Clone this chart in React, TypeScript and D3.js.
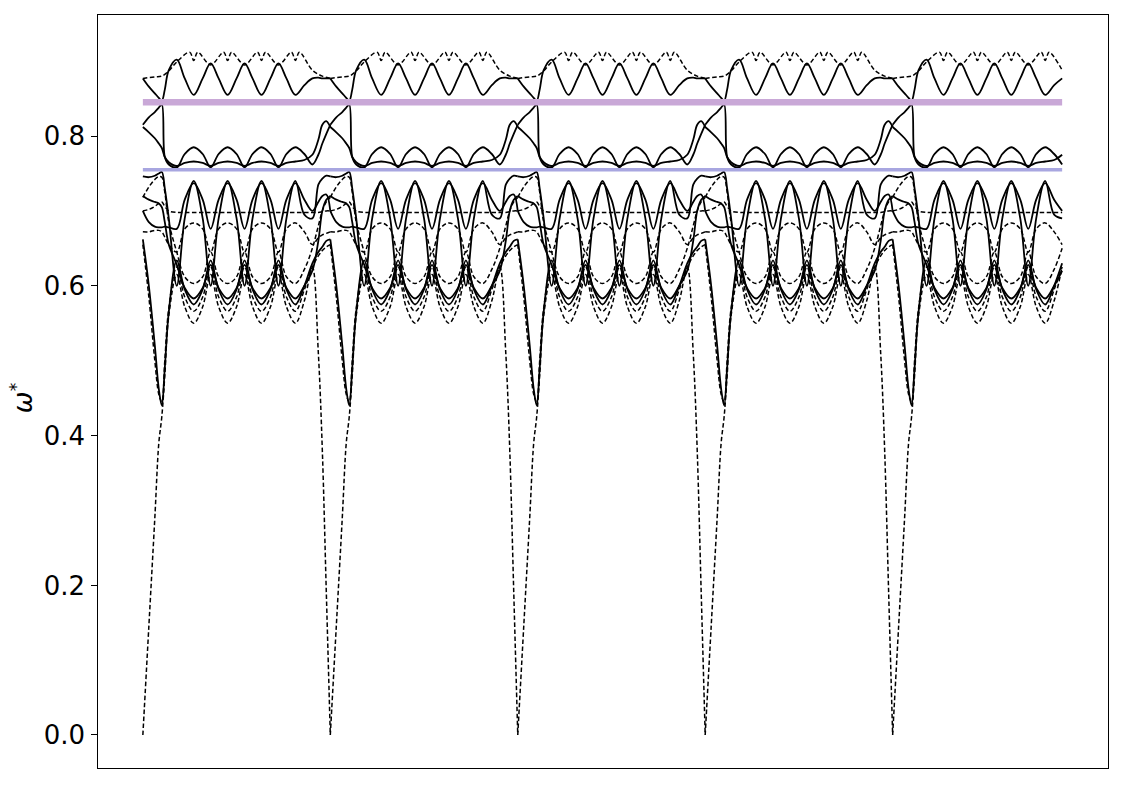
import React from "react";
import * as d3 from "d3";

const WIDTH = 1125;
const HEIGHT = 785;
const PLOT = { left: 97, right: 1108, top: 14, bottom: 768 };

// the path is repeated 5 times; the last repeat stops early
const REPEAT_LEN = 188;
const REPEAT_ENDS = [188, 188, 188, 188, 170];
const X_DOMAIN: [number, number] = [-46, 968];
const Y_DOMAIN: [number, number] = [-0.0441, 0.963];
const Y_TICKS = [0, 0.2, 0.4, 0.6, 0.8];

const GAP_UPPER = 0.845;
const GAP_LOWER = 0.755;

// sample positions inside one repeat (path units)
const OFFSETS = [0, 6, 12, 16, 19, 22, 26, 34, 42, 51, 60, 68, 76, 85, 94, 102, 110, 119, 128, 136, 144, 153, 162, 170, 176, 180, 184, 188];
const TOP_DASH_OFFSETS = [0, 12, 19, 26, 34, 47, 51, 55, 68, 81, 85, 89, 102, 115, 119, 123, 136, 149, 153, 157, 170, 180, 188];

// frequencies of each branch within one repeat
const topSolid = [0.877, 0.866, 0.857, 0.851, 0.847, 0.862, 0.888, 0.902, 0.877, 0.855, 0.877, 0.897, 0.877, 0.855, 0.877, 0.897, 0.877, 0.855, 0.877, 0.897, 0.877, 0.855, 0.868, 0.877, 0.878, 0.877, 0.877, 0.877];
const topDashed = [0.877, 0.879, 0.880, 0.887, 0.899, 0.912, 0.901, 0.912, 0.895, 0.912, 0.901, 0.912, 0.895, 0.912, 0.901, 0.912, 0.895, 0.912, 0.901, 0.912, 0.888, 0.880, 0.877];
const midSolidA = [0.815, 0.825, 0.832, 0.838, 0.842, 0.772, 0.762, 0.758, 0.776, 0.785, 0.776, 0.758, 0.776, 0.785, 0.776, 0.758, 0.776, 0.785, 0.776, 0.758, 0.776, 0.785, 0.776, 0.762, 0.775, 0.79, 0.803, 0.815];
const midSolidB = [0.812, 0.805, 0.797, 0.79, 0.784, 0.772, 0.765, 0.760, 0.764, 0.766, 0.764, 0.760, 0.764, 0.766, 0.764, 0.760, 0.764, 0.766, 0.764, 0.760, 0.764, 0.766, 0.768, 0.775, 0.795, 0.815, 0.82, 0.812];
const lowSolidA = [0.746, 0.745, 0.747, 0.75, 0.752, 0.73, 0.69, 0.60, 0.69, 0.74, 0.69, 0.60, 0.69, 0.74, 0.69, 0.60, 0.69, 0.74, 0.69, 0.60, 0.69, 0.74, 0.695, 0.69, 0.735, 0.743, 0.747, 0.746];
const lowSolidB = [0.70, 0.685, 0.679, 0.678, 0.678, 0.679, 0.678, 0.676, 0.715, 0.737, 0.715, 0.676, 0.715, 0.737, 0.715, 0.676, 0.715, 0.737, 0.715, 0.676, 0.715, 0.737, 0.715, 0.70, 0.712, 0.72, 0.722, 0.70];
const flatDashed = [0.700, 0.702, 0.706, 0.71, 0.712, 0.706, 0.70, 0.698, 0.698, 0.698, 0.698, 0.698, 0.698, 0.698, 0.698, 0.698, 0.698, 0.698, 0.698, 0.698, 0.698, 0.698, 0.698, 0.698, 0.698, 0.699, 0.70, 0.70];
const ovalDashedTop = [0.672, 0.672, 0.674, 0.674, 0.672, 0.665, 0.655, 0.645, 0.676, 0.684, 0.676, 0.645, 0.676, 0.684, 0.676, 0.645, 0.676, 0.684, 0.676, 0.645, 0.676, 0.684, 0.672, 0.655, 0.664, 0.668, 0.670, 0.672];
const ovalDashedBottom = [0.718, 0.732, 0.742, 0.746, 0.745, 0.725, 0.685, 0.645, 0.612, 0.603, 0.612, 0.645, 0.612, 0.603, 0.612, 0.645, 0.612, 0.603, 0.612, 0.645, 0.612, 0.603, 0.622, 0.65, 0.68, 0.70, 0.712, 0.718];
const dipSolid = [0.662, 0.60, 0.52, 0.462, 0.44, 0.49, 0.565, 0.634, 0.595, 0.575, 0.595, 0.634, 0.595, 0.575, 0.595, 0.634, 0.595, 0.575, 0.595, 0.634, 0.595, 0.575, 0.60, 0.63, 0.645, 0.652, 0.66, 0.662];
const bottomSolid = [0.72, 0.715, 0.712, 0.71, 0.705, 0.685, 0.655, 0.628, 0.597, 0.583, 0.597, 0.628, 0.597, 0.583, 0.597, 0.628, 0.597, 0.583, 0.597, 0.628, 0.597, 0.583, 0.60, 0.62, 0.66, 0.70, 0.715, 0.72];
const dipDashed = [0.655, 0.585, 0.50, 0.455, 0.445, 0.50, 0.57, 0.625, 0.585, 0.566, 0.585, 0.625, 0.585, 0.566, 0.585, 0.625, 0.585, 0.566, 0.585, 0.625, 0.585, 0.566, 0.595, 0.625, 0.64, 0.647, 0.652, 0.655];
const acousticDashed = [0.0, 0.145, 0.29, 0.39, 0.425, 0.48, 0.56, 0.615, 0.572, 0.55, 0.572, 0.615, 0.572, 0.55, 0.572, 0.615, 0.572, 0.55, 0.572, 0.615, 0.572, 0.55, 0.58, 0.625, 0.51, 0.38, 0.19, 0.0];

const branches = [
  { values: topSolid, offsets: OFFSETS, dashed: false },
  { values: topDashed, offsets: TOP_DASH_OFFSETS, dashed: true },
  { values: midSolidA, offsets: OFFSETS, dashed: false },
  { values: midSolidB, offsets: OFFSETS, dashed: false },
  { values: lowSolidA, offsets: OFFSETS, dashed: false },
  { values: lowSolidB, offsets: OFFSETS, dashed: false },
  { values: flatDashed, offsets: OFFSETS, dashed: true },
  { values: ovalDashedTop, offsets: OFFSETS, dashed: true },
  { values: ovalDashedBottom, offsets: OFFSETS, dashed: true },
  { values: dipSolid, offsets: OFFSETS, dashed: false },
  { values: bottomSolid, offsets: OFFSETS, dashed: false },
  { values: dipDashed, offsets: OFFSETS, dashed: true },
  { values: acousticDashed, offsets: OFFSETS, dashed: true },
];

export default function App() {
  const x = d3.scaleLinear().domain(X_DOMAIN).range([PLOT.left, PLOT.right]);
  const y = d3.scaleLinear().domain(Y_DOMAIN).range([PLOT.bottom, PLOT.top]);

  const line = d3.line<[number, number]>()
    .x(d => x(d[0]))
    .y(d => y(d[1]))
    .curve(d3.curveCatmullRom.alpha(0.5));

  const paths: { d: string; dashed: boolean }[] = [];
  REPEAT_ENDS.forEach((end, r) => {
    branches.forEach(b => {
      const pts: [number, number][] = [];
      b.offsets.forEach((o, i) => {
        if (o <= end) pts.push([r * REPEAT_LEN + o, b.values[i]]);
      });
      paths.push({ d: line(pts) || "", dashed: b.dashed });
    });
  });

  const xStart = 0;
  const xEnd = (REPEAT_ENDS.length - 1) * REPEAT_LEN + REPEAT_ENDS[REPEAT_ENDS.length - 1];

  return (
    <svg
      width={WIDTH}
      height={HEIGHT}
      style={{ position: "absolute", left: 0, top: 0, background: "#fff" }}
      fontFamily="DejaVu Sans"
    >
      <rect x={0} y={0} width={WIDTH} height={HEIGHT} fill="#fff" />
      <g>
        {paths.map((p, i) => (
          <path
            key={i}
            d={p.d}
            fill="none"
            stroke="#000"
            strokeWidth={p.dashed ? 1.5 : 1.8}
            strokeDasharray={p.dashed ? "4.5,2.5" : undefined}
          />
        ))}
      </g>
      <line x1={x(xStart)} x2={x(xEnd)} y1={y(GAP_UPPER)} y2={y(GAP_UPPER)} stroke="#c9a8d7" strokeWidth={6.5} />
      <line x1={x(xStart)} x2={x(xEnd)} y1={y(GAP_LOWER)} y2={y(GAP_LOWER)} stroke="#a8a6e0" strokeWidth={3.5} />
      <rect
        x={PLOT.left}
        y={PLOT.top}
        width={PLOT.right - PLOT.left}
        height={PLOT.bottom - PLOT.top}
        fill="none"
        stroke="#000"
        strokeWidth={1}
        shapeRendering="crispEdges"
      />
      {Y_TICKS.map(t => (
        <g key={t} transform={`translate(${PLOT.left},${y(t)})`}>
          <line x1={-6} x2={0} stroke="#000" strokeWidth={1} shapeRendering="crispEdges" />
          <text x={-12} dy="0.36em" textAnchor="end" fontSize={26} fill="#000">
            {t.toFixed(1)}
          </text>
        </g>
      ))}
      <text transform="translate(32,398) rotate(-90)" textAnchor="middle" fontSize={26} fill="#000">
        <tspan fontStyle="italic">ω</tspan>
        <tspan dy={-10} fontSize={17}>*</tspan>
      </text>
    </svg>
  );
}
